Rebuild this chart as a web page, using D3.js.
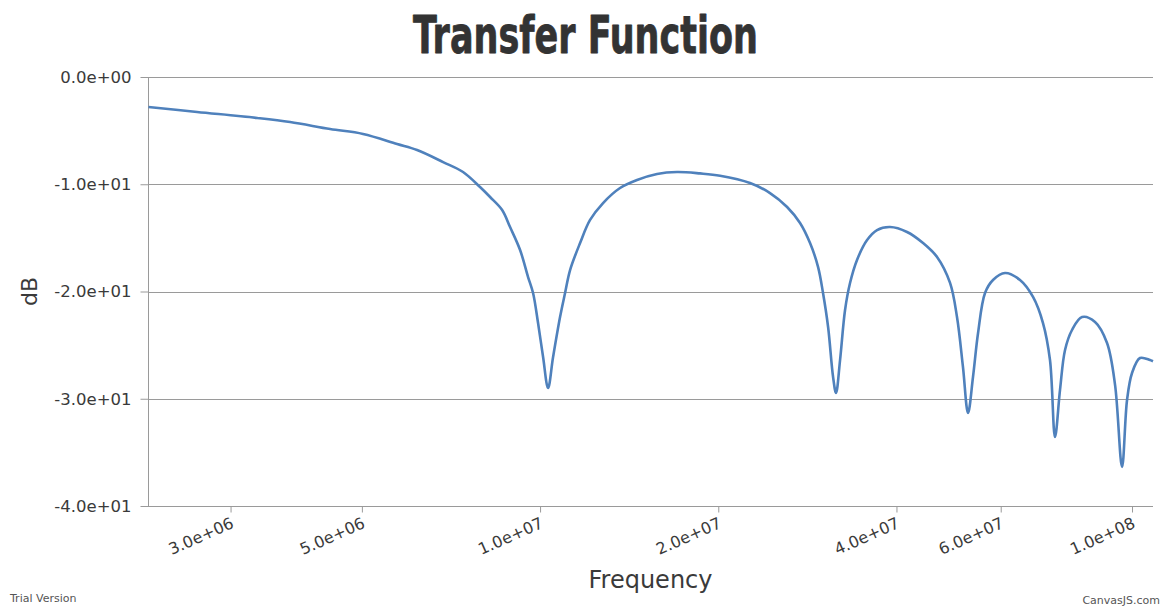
<!DOCTYPE html>
<html>
<head>
<meta charset="utf-8">
<script src="https://cdn.jsdelivr.net/npm/d3@7"></script>
<style>
  html, body { margin: 0; padding: 0; background: #fff; }
  svg { display: block; }
</style>
</head>
<body>
<svg id="chart" width="1170" height="608"></svg>
<script>
// ---- data ----
const frequency = [
  2.18e6, 2.634e6, 3.327e6, 3.782e6, 4.419e6, 5.023e6, 5.734e6, 6.197e6, 6.858e6, 7.41e6,
  7.917e6, 8.233e6, 8.628e6, 8.898e6, 9.252e6, 9.544e6, 9.731e6, 9.922e6, 1.0118e7, 1.0316e7,
  1.0519e7, 1.0808e7, 1.1021e7, 1.1238e7, 1.1684e7, 1.2147e7, 1.2776e7, 1.365e7, 1.4581e7, 1.5763e7,
  1.7036e7, 1.8634e7, 2.014e7, 2.263e7, 2.446e7, 2.614e7, 2.749e7, 2.858e7, 2.949e7, 3.006e7,
  3.066e7, 3.126e7, 3.162e7, 3.212e7, 3.275e7, 3.339e7, 3.431e7, 3.568e7, 3.709e7, 3.902e7,
  4.168e7, 4.436e7, 4.684e7, 4.927e7, 5.062e7, 5.181e7, 5.284e7, 5.387e7, 5.494e7, 5.645e7,
  5.823e7, 6.102e7, 6.468e7, 6.804e7, 7.073e7, 7.268e7, 7.411e7, 7.557e7, 7.706e7, 7.918e7,
  8.233e7, 8.66e7, 9.074e7, 9.361e7, 9.619e7, 9.808e7, 1.0e8, 1.0316e8, 1.0725e8, 1.085e8
];
const gainDb = [
  -2.80, -3.26, -3.82, -4.20, -4.85, -5.31, -6.25, -6.81, -7.93, -8.86,
  -10.26, -11.19, -12.40, -13.99, -16.13, -18.65, -20.14, -22.94, -26.11, -29.0,
  -26.11, -22.38, -20.14, -18.0, -15.48, -13.33, -11.75, -10.35, -9.60, -9.04,
  -8.86, -8.99, -9.20, -9.88, -10.82, -12.12, -13.61, -15.48, -17.72, -20.14,
  -23.31, -27.97, -29.46, -26.39, -21.72, -19.21, -17.06, -15.20, -14.27, -13.99,
  -14.45, -15.48, -16.78, -19.20, -22.38, -27.04, -31.33, -27.97, -23.87, -20.14,
  -18.93, -18.28, -18.93, -20.51, -22.94, -26.39, -33.57, -29.18, -25.45, -23.59,
  -22.38, -22.84, -24.80, -28.70, -36.36, -30.12, -27.60, -26.20, -26.39, -26.5
];
const xTickValues = [3e6, 5e6, 1e7, 2e7, 4e7, 6e7, 1e8];
const yTickValues = [0, -10, -20, -30, -40];
const xDomain = [2.176e6, 1.085e8];
const yDomain = [-40, 0];
const titleText = "Transfer Function";
const xTitle = "Frequency";
const yTitle = "dB";

// ---- layout ----
const plot = { left: 148, right: 1153, top: 77, bottom: 506 };
const svg = d3.select("#chart");
const labelFont = "'DejaVu Sans', Verdana, sans-serif";
const gridColor = "#9a9a9a";

const x = d3.scaleLog().domain(xDomain).range([plot.left, plot.right]);
const y = d3.scaleLinear().domain(yDomain).range([plot.bottom, plot.top]);

const fmtExp = v => v.toExponential(1).replace(/e([+-])(\d)$/, "e$10$2");

// gridlines
svg.append("g")
  .selectAll("line")
  .data(yTickValues.filter(v => v !== yDomain[0]))
  .join("line")
  .attr("x1", plot.left).attr("x2", plot.right)
  .attr("y1", d => Math.round(y(d)) + 0.5).attr("y2", d => Math.round(y(d)) + 0.5)
  .attr("stroke", gridColor).attr("stroke-width", 1);

// y axis
const yAxis = d3.axisLeft(y).tickValues(yTickValues).tickSize(8).tickPadding(9).tickFormat(fmtExp);
const gy = svg.append("g").attr("transform", `translate(${plot.left + 0.5},0)`).call(yAxis);
gy.select(".domain").attr("stroke", gridColor).attr("d", `M0,${plot.top}V${plot.bottom}`);
gy.selectAll(".tick line").attr("stroke", gridColor);
gy.selectAll(".tick text")
  .attr("font-family", labelFont).attr("font-size", 16.5).attr("fill", "#3a3a3a");

// x axis
const xAxis = d3.axisBottom(x).tickValues(xTickValues).tickSize(6).tickFormat(fmtExp);
const gx = svg.append("g").attr("transform", `translate(0,${plot.bottom + 0.5})`).call(xAxis);
gx.select(".domain").attr("stroke", gridColor).attr("d", `M${plot.left},0H${plot.right}`);
gx.selectAll(".tick line").attr("stroke", gridColor);
gx.selectAll(".tick text")
  .attr("font-family", labelFont).attr("font-size", 16).attr("fill", "#3a3a3a")
  .attr("text-anchor", "end")
  .attr("y", 0).attr("dy", "0.72em")
  .attr("transform", "translate(-1,10) rotate(-24)");

// line
const pts = frequency.map((f, i) => [f, gainDb[i]]);
const line = d3.line().x(d => x(d[0])).y(d => y(d[1])).curve(d3.curveCatmullRom.alpha(0.5));
svg.append("path")
  .datum(pts)
  .attr("d", line)
  .attr("fill", "none")
  .attr("stroke", "#4f81bc")
  .attr("stroke-width", 2.6)
  .attr("stroke-linejoin", "round");

// title
svg.append("text")
  .attr("x", 413).attr("y", 53)
  .attr("font-family", "Impact, 'Liberation Sans Narrow', 'DejaVu Sans Condensed', 'Liberation Sans', sans-serif")
  .attr("font-weight", 900)
  .attr("font-size", 52)
  .attr("fill", "#333")
  .attr("stroke", "#333")
  .attr("stroke-width", 0.8)
  .attr("stroke-linejoin", "round")
  .attr("textLength", 345)
  .attr("lengthAdjust", "spacingAndGlyphs")
  .text(titleText);

// axis titles
svg.append("text")
  .attr("x", (plot.left + plot.right) / 2).attr("y", 588)
  .attr("text-anchor", "middle")
  .attr("font-family", labelFont).attr("font-size", 24).attr("fill", "#3a3a3a")
  .text(xTitle);

svg.append("text")
  .attr("transform", `translate(37,${(plot.top + plot.bottom) / 2}) rotate(-90)`)
  .attr("text-anchor", "middle")
  .attr("font-family", labelFont).attr("font-size", 22).attr("fill", "#3a3a3a")
  .text(yTitle);

// credits
svg.append("text")
  .attr("x", 10).attr("y", 602)
  .attr("font-family", labelFont).attr("font-size", 11).attr("fill", "#555")
  .text("Trial Version");
svg.append("text")
  .attr("x", 1160).attr("y", 604)
  .attr("text-anchor", "end")
  .attr("font-family", labelFont).attr("font-size", 11).attr("fill", "#555")
  .text("CanvasJS.com");
</script>
</body>
</html>
